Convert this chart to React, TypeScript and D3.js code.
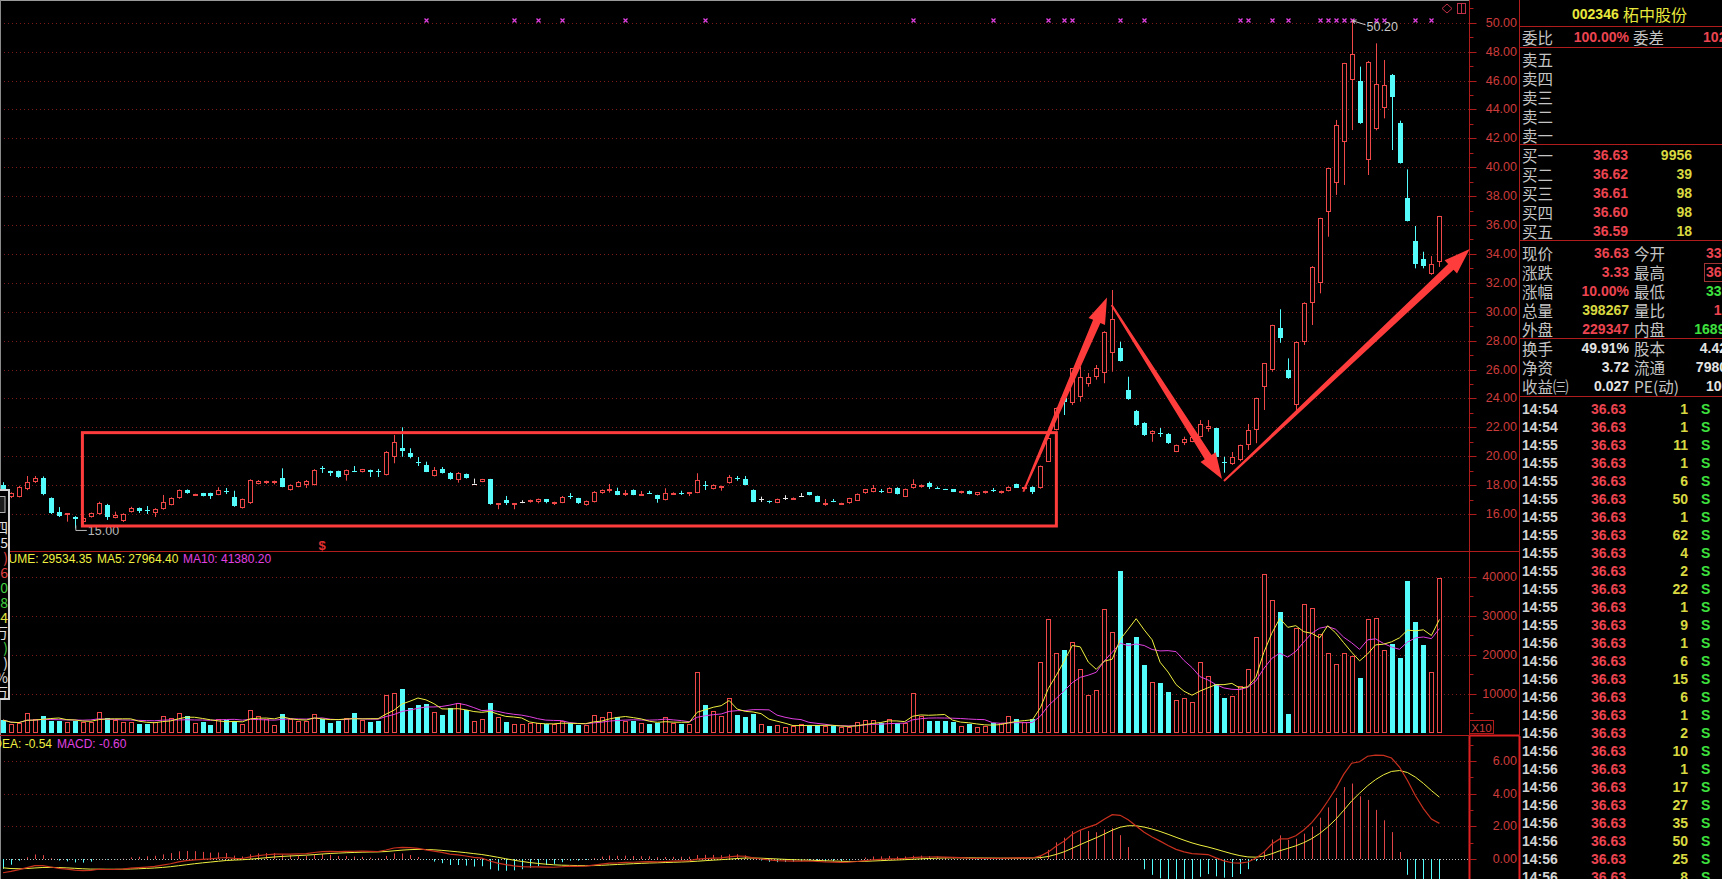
import React, { useEffect } from 'react';
import * as d3 from 'd3';

// ---------- Daily OHLC (price, yuan) ----------
const opens = [18.0,17.18,17.2,17.71,18.21,18.49,17.11,16.16,15.99,15.79,
15.47,15.79,16.0,16.62,15.72,15.54,16.14,16.42,16.28,16.07,
16.33,16.62,17.11,17.66,17.36,17.43,17.45,17.32,17.56,17.18,
16.41,16.74,18.08,18.28,18.28,18.49,17.66,17.89,18.01,18.01,
19.19,18.98,18.98,18.7,18.98,18.91,19.05,18.98,18.7,19.92,
20.55,20.22,19.62,19.39,18.63,19.09,18.86,18.35,18.77,18.1,
18.24,18.4,16.72,16.97,16.72,16.85,16.81,16.85,17.02,16.83,
16.78,17.27,17.09,16.62,16.85,17.43,17.70,17.61,17.47,17.66,
17.35,17.44,17.3,16.97,17.36,17.48,17.38,17.47,18.02,17.73,
17.95,18.12,18.48,18.4,17.66,17.02,16.91,16.78,17.13,17.04,
17.25,17.5,17.24,16.78,16.9,16.75,16.74,16.92,17.43,17.54,
17.6,17.47,17.82,17.2,17.78,17.85,18.12,17.82,17.73,17.71,
17.43,17.61,17.29,17.43,17.66,17.43,17.59,18.05,17.88,17.89,
17.78,19.62,21.81,24.0,23.66,24.12,24.99,25.46,25.78,27.12,
27.47,24.58,23.13,22.32,21.54,21.63,21.54,20.31,20.89,21.0,
21.35,21.86,21.93,19.62,19.44,19.74,20.78,21.81,24.81,25.96,
28.85,25.96,23.54,27.92,30.58,31.97,36.92,38.93,41.76,46.04,
45.96,40.5,42.62,44.08,46.38,43.04,37.85,34.91,33.63,32.61,
33.46];
const highs = [18.2,17.5,17.95,18.63,18.63,18.6,17.15,16.48,16.07,15.85,
15.8,16.1,16.85,16.7,16.16,16.05,16.5,16.45,16.55,16.4,
17.32,17.15,17.7,17.7,17.4,17.46,17.47,17.85,17.8,17.61,
17.07,18.4,18.35,18.31,18.31,19.16,18.05,18.28,18.35,19.1,
19.32,19.0,19.0,19.08,19.32,19.12,19.07,19.12,20.35,21.47,
22.0,20.55,19.94,19.62,19.25,19.25,18.9,18.9,18.8,18.45,
18.43,18.43,16.74,17.25,16.74,16.95,17.0,17.07,17.04,16.85,
17.25,17.45,17.12,16.93,17.58,17.7,18.08,17.82,17.66,17.7,
17.59,17.6,17.33,17.78,17.5,17.61,17.5,18.82,18.28,18.05,
17.96,18.7,18.63,18.63,17.7,17.2,16.93,17.07,17.3,17.15,
17.45,17.52,17.27,17.04,17.04,16.78,17.12,17.42,17.74,18.01,
17.73,17.85,17.85,17.76,18.4,18.05,18.24,17.9,17.74,17.73,
17.61,17.63,17.52,17.61,17.8,17.62,17.92,18.1,17.89,17.92,
19.35,21.3,23.36,24.05,26.1,26.2,25.76,26.31,28.65,31.5,
27.92,25.5,23.2,22.35,21.8,21.95,21.6,20.8,21.35,21.4,
22.5,22.5,21.97,19.96,20.29,20.8,22.23,24.05,26.45,29.1,
30.17,26.77,27.95,30.65,33.15,36.5,39.95,43.27,47.22,50.2,
46.96,47.35,48.57,47.42,46.45,43.22,39.85,35.93,34.15,33.85,
36.63];
const lows = [17.1,17.1,17.15,17.65,18.15,17.3,16.0,15.79,15.47,15.0,
15.4,15.75,15.95,15.59,15.7,15.45,16.1,16.07,16.0,15.79,
16.3,16.6,17.05,17.4,17.34,17.22,17.04,17.3,17.38,16.5,
16.38,16.7,18.05,18.08,18.05,17.85,17.62,17.85,17.8,17.98,
18.84,18.63,18.5,18.31,18.9,18.88,18.56,18.56,18.67,19.51,
19.96,19.85,19.32,18.9,18.6,18.8,18.37,18.17,18.45,18.1,
18.2,16.64,16.33,16.62,16.33,16.75,16.78,16.74,16.74,16.62,
16.75,17.04,16.7,16.58,16.8,17.4,17.48,17.3,17.25,17.3,
17.35,17.4,16.78,16.94,17.33,17.32,17.24,17.44,17.66,17.7,
17.61,18.1,18.3,17.98,16.82,16.83,16.74,16.75,16.97,17.02,
17.25,17.29,16.82,16.57,16.82,16.74,16.71,16.9,17.4,17.5,
17.45,17.45,17.35,17.17,17.75,17.82,17.73,17.75,17.71,17.52,
17.41,17.36,17.27,17.41,17.52,17.41,17.56,17.8,17.66,17.38,
17.75,19.6,21.78,22.85,23.54,23.77,24.81,25.3,25.05,25.85,
26.55,23.9,22.1,21.4,21.0,21.33,20.85,20.28,20.77,20.97,
21.3,21.7,19.9,18.86,19.4,19.65,20.43,20.9,23.2,25.85,
27.85,25.35,23.2,27.7,29.08,31.27,35.19,38.08,38.77,42.57,
43.0,39.46,42.55,43.38,41.19,40.25,36.25,33.0,33.0,32.55,
33.1];
const closes = [17.2,17.45,17.89,18.24,18.49,17.36,16.09,15.86,16.07,15.65,
15.72,16.07,16.76,15.79,15.93,16.0,16.42,16.23,16.27,16.35,
16.85,17.11,17.66,17.43,17.38,17.25,17.25,17.66,17.54,16.55,
17.04,18.35,18.31,18.31,18.31,17.89,18.01,18.24,18.31,19.05,
19.17,18.84,18.54,19.05,18.96,19.09,18.93,18.96,20.31,21.0,
20.38,19.92,19.6,18.93,19.05,18.82,18.4,18.86,18.47,18.1,
18.4,16.67,16.74,16.78,16.74,16.85,16.97,17.04,16.85,16.85,
17.2,17.25,16.74,16.9,17.54,17.66,17.71,17.32,17.48,17.32,
17.37,17.43,17.04,17.43,17.47,17.47,17.5,18.35,18.0,18.01,
17.96,18.54,18.47,18.01,16.85,17.02,16.9,17.04,17.13,17.13,
17.25,17.31,16.85,16.79,16.89,16.77,17.09,17.39,17.71,17.78,
17.59,17.78,17.38,17.73,18.08,18.01,17.85,17.81,17.72,17.54,
17.59,17.38,17.5,17.59,17.65,17.59,17.89,17.82,17.89,17.54,
19.32,21.24,23.32,23.75,26.08,25.5,25.5,26.08,28.62,29.47,
26.61,23.94,22.16,21.47,21.76,21.62,20.89,20.78,21.19,21.35,
22.23,22.11,19.92,19.6,19.92,20.78,21.81,24.0,26.43,29.08,
28.16,25.39,27.92,30.62,33.11,36.46,39.92,42.92,47.19,47.83,
43.08,47.3,45.74,45.69,44.84,40.31,36.3,33.3,33.16,33.3,
36.63];
// ---------- Daily volume (x10) ----------
const volumes = [3200,2100,2350,4940,3400,4240,3040,3040,2780,3040,
2780,2780,5190,3650,3200,2780,2780,2190,2190,2620,
4240,3650,4940,4240,2530,2700,1930,3470,3200,2950,
2190,5790,4240,3400,1930,4760,3400,2950,2950,4760,
3400,2530,2950,3730,5100,3200,2780,2950,9650,10080,
11190,6380,7070,7250,5190,4500,6220,7500,5790,2950,
3470,7500,4000,2780,2190,2190,2350,2350,2100,2100,
3040,2350,1930,1930,4420,4000,5190,3900,3040,2950,
2350,2190,2530,3900,2350,2190,2190,15480,7000,5610,
4240,8800,4500,4070,4760,2100,1670,1930,1500,1670,
2190,1850,1850,1670,1670,1330,1330,2620,3200,3200,
2530,3400,2530,2350,10080,4240,2950,2950,2950,2780,
1750,2100,1500,1750,2350,2530,4240,3400,2780,3400,
18050,29100,20360,21220,23190,16250,9650,10930,31690,25770,
41540,22940,24480,17360,12910,12650,10340,8360,8800,7770,
18050,14530,12400,8800,9390,11960,16250,24640,40690,34080,
31080,4760,26800,32970,31950,25260,20370,17620,20370,19680,
14100,29190,29370,21220,22770,19240,39050,28500,22510,15480,
39827];

// candles flagged with a pink "x" marker on the top line
const markerIdx = [53,64,67,70,78,88,114,124,131,133,134,140,143,155,156,159,161,165,166,167,168,169,172,173,177,179];

const priceTicks = [16,18,20,22,24,26,28,30,32,34,36,38,40,42,44,46,48,50];
const volTicks = [10000,20000,30000,40000];
const macdTicks = [0,2,4,6];

// MACD legend values at cursor
const difStart = -0.84;
const deaStart = -0.54;

// right quote panel
const sellLabels = ['卖五','卖四','卖三','卖二','卖一'];
const buyLabels = ['买一','买二','买三','买四','买五'];
const buyPrices = ['36.63','36.62','36.61','36.60','36.59'];
const buyVols = ['9956','39','98','98','18'];
const quoteLabels1 = ['现价','涨跌','涨幅','总量','外盘'];
const quoteVals1 = ['36.63','3.33','10.00%','398267','229347'];
const quoteCols1 = ['red','red','red','yellow','red'];
const quoteLabels2 = ['今开','最高','最低','量比','内盘'];
const quoteVals2 = ['33.30','36.63','33.10','1.27','168920'];
const quoteCols2 = ['red','red','green','red','green'];
const infoLabels1 = ['换手','净资','收益㈢'];
const infoVals1 = ['49.91%','3.72','0.027'];
const infoLabels2 = ['股本','流通','PE(动)'];
const infoVals2 = ['4.42亿','7980万','100.3'];
const tickTimes = ['14:54','14:54','14:55','14:55','14:55','14:55','14:55','14:55','14:55','14:55','14:55','14:55','14:55',
  '14:56','14:56','14:56','14:56','14:56','14:56','14:56','14:56','14:56','14:56','14:56','14:56','14:56','14:56'];
const tickPrices = Array(27).fill('36.63');
const tickVols = [1,1,11,1,6,50,1,62,4,2,22,1,9,1,6,15,6,1,2,10,1,17,27,35,50,25,8];

// left data-window glimpse
const popupChars = ['四','5',')','6','0','8','4','万',')',')','%','万'];
const popupCols = ['#e0e0e0','#e0e0e0','#e04040','#e04040','#40d040','#40d040','#e0e040','#e0e0e0','#40d040','#e0e0e0','#e0e0e0','#e0e0e0'];

const RED = '#f04848';
const CYAN = '#54fcfc';
const WHITE = '#e8e8e8';
const GRID = '#7a1a1a';
const AXIS = '#b01c1c';
const LABEL = '#cc3c3c';
const ANNO = '#ff3c3c';
const NUMF = "'Liberation Sans', Arial, Helvetica, sans-serif";
const CJKF = "'Noto Sans CJK SC', 'Noto Sans', sans-serif";
const COL: Record<string, string> = { red: '#ec4450', yellow: '#d8d840', green: '#3ee03e', white: '#e4e4e4' };

function arrowPoly(x1: number, y1: number, x2: number, y2: number, w0 = 2, w1 = 8, headLen = 26, headW = 9) {
  const dx = x2 - x1, dy = y2 - y1, L = Math.hypot(dx, dy);
  const ux = dx / L, uy = dy / L, px = -uy, py = ux;
  const bx = x2 - ux * headLen, by = y2 - uy * headLen;
  const pts = [
    [x1 + px * w0 / 2, y1 + py * w0 / 2],
    [bx + px * w1 / 2, by + py * w1 / 2],
    [bx + px * headW, by + py * headW],
    [x2, y2],
    [bx - px * headW, by - py * headW],
    [bx - px * w1 / 2, by - py * w1 / 2],
    [x1 - px * w0 / 2, y1 - py * w0 / 2],
  ];
  return pts.map(p => p[0].toFixed(1) + ',' + p[1].toFixed(1)).join(' ');
}

export default function App() {
  useEffect(() => {
    document.body.style.margin = '0';
    document.body.style.background = '#000';
  }, []);

  const n = closes.length;
  const x = d3.scaleLinear().domain([0, n - 1]).range([3, 3 + 7.98 * (n - 1)]);
  const yP = d3.scaleLinear().domain([16, 50]).range([514, 22.7]);
  const yV = d3.scaleLinear().domain([0, 40000]).range([732.5, 577]);
  const yM = d3.scaleLinear().domain([0, 6]).range([859, 761]);

  const AX = 1469.5;
  const PX = 1519.5;

  // volume moving averages
  const ma = (arr: number[], k: number) => arr.map((_, i) => d3.mean(arr.slice(Math.max(0, i - k + 1), i + 1)) as number);
  const ma5 = ma(volumes, 5);
  const ma10 = ma(volumes, 10);

  // MACD from closes
  const dif: number[] = [], dea: number[] = [], hist: number[] = [];
  let e12 = closes[0], e26 = closes[0] - difStart, d = deaStart;
  closes.forEach((c, i) => {
    if (i > 0) {
      e12 = e12 * 11 / 13 + c * 2 / 13;
      e26 = e26 * 25 / 27 + c * 2 / 27;
      const df0 = e12 - e26;
      d = d * 8 / 10 + df0 * 2 / 10;
    }
    const df = e12 - e26;
    dif.push(df); dea.push(d); hist.push(2 * (df - d));
  });

  const lineV = d3.line<number>().x((_, i) => x(i)).y(v => yV(v));
  const lineM = d3.line<number>().x((_, i) => x(i)).y(v => yM(v));

  const candles = closes.map((c, i) => {
    const o = opens[i], h = highs[i], l = lows[i];
    const cx = Math.round(x(i));
    const yt = Math.round(yP(Math.max(o, c))), yb = Math.round(yP(Math.min(o, c)));
    const yh = yP(h), yl = yP(l);
    if (c > o) {
      const bot = Math.max(yt + 2, yb);
      return (
        <g key={i}>
          <line x1={cx + 0.5} x2={cx + 0.5} y1={yh} y2={yt} stroke={RED} />
          <line x1={cx + 0.5} x2={cx + 0.5} y1={bot} y2={yl} stroke={RED} />
          <rect x={cx - 1.5} y={yt + 0.5} width={4} height={Math.max(1, bot - yt - 1)} fill="#000" stroke={RED} />
        </g>
      );
    }
    if (c < o) {
      return (
        <g key={i}>
          <line x1={cx + 0.5} x2={cx + 0.5} y1={yh} y2={yl} stroke={CYAN} />
          <rect x={cx - 2} y={yt} width={5} height={Math.max(1, yb - yt)} fill={CYAN} />
        </g>
      );
    }
    return (
      <g key={i}>
        <line x1={cx + 0.5} x2={cx + 0.5} y1={yh} y2={yl} stroke={WHITE} />
        <line x1={cx - 2} x2={cx + 3} y1={yt + 0.5} y2={yt + 0.5} stroke={WHITE} />
      </g>
    );
  });

  const volBars = volumes.map((v, i) => {
    const cx = Math.round(x(i));
    const top = Math.round(yV(v));
    const base = Math.round(yV(0));
    if (closes[i] < opens[i]) {
      return <rect key={i} x={cx - 2} y={top} width={5} height={base - top} fill={CYAN} />;
    }
    return <rect key={i} x={cx - 1.5} y={top + 0.5} width={4} height={Math.max(1, base - top - 1)} fill="#000" stroke={RED} />;
  });

  const macdBars = hist.map((v, i) => {
    const cx = Math.round(x(i)) + 0.5;
    return <line key={i} x1={cx} x2={cx} y1={yM(0)} y2={yM(v)} stroke={v >= 0 ? '#e04444' : CYAN} />;
  });

  // annotations (data coordinates)
  const boxX0 = x(9.95), boxX1 = x(132.0), boxY0 = yP(21.63), boxY1 = yP(15.17);
  const arrows = [
    [127.86, 17.54, 138.35, 30.98],
    [138.93, 30.46, 152.76, 18.42],
    [153.0, 18.28, 183.8, 34.34],
  ];

  const hiIdx = d3.maxIndex(highs);
  const loIdx = d3.minIndex(lows);
  const hx = x(hiIdx), hy = yP(highs[hiIdx]);
  const lx = x(loIdx), ly = yP(lows[loIdx]);

  const txtNum = (props: any, s: string) => <text fontFamily={NUMF} fontWeight="bold" fontSize={14} dominantBaseline="central" {...props}>{s}</text>;
  const txtCjk = (props: any, s: string) => <text fontFamily={CJKF} fontSize={15.5} fill="#c4c4c4" dominantBaseline="central" {...props}>{s}</text>;

  return (
    <svg width={1722} height={879} style={{ position: 'absolute', left: 0, top: 0, background: '#000', display: 'block' }}>
      <rect x={0} y={0} width={1722} height={879} fill="#000" />
      <defs>
        <clipPath id="popclip"><rect x={0} y={488} width={9} height={212} /></clipPath>
      </defs>

      {/* grid lines */}
      {priceTicks.map(t => <line key={'g' + t} x1={0} x2={AX} y1={Math.round(yP(t)) + 0.5} y2={Math.round(yP(t)) + 0.5} stroke={GRID} strokeDasharray="1 3" />)}
      {volTicks.map(t => <line key={'gv' + t} x1={0} x2={AX} y1={Math.round(yV(t)) + 0.5} y2={Math.round(yV(t)) + 0.5} stroke={GRID} strokeDasharray="1 3" />)}
      {macdTicks.filter(t => t > 0).map(t => <line key={'gm' + t} x1={0} x2={AX} y1={Math.round(yM(t)) + 0.5} y2={Math.round(yM(t)) + 0.5} stroke={GRID} strokeDasharray="1 3" />)}
      <line x1={0} x2={AX} y1={yM(0) + 0.5} y2={yM(0) + 0.5} stroke="#bdbdbd" strokeDasharray="1 2" />

      {/* frame */}
      <line x1={0} x2={AX} y1={0.5} y2={0.5} stroke="#9a9a9a" />
      <line x1={0.5} x2={0.5} y1={0} y2={879} stroke="#8a8a8a" />
      <line x1={0} x2={PX} y1={551.5} y2={551.5} stroke={AXIS} />
      <line x1={0} x2={PX} y1={735.5} y2={735.5} stroke={AXIS} />
      <line x1={AX} x2={PX} y1={735.5} y2={735.5} stroke="#e02020" strokeWidth={2} />
      <line x1={AX} x2={AX} y1={0} y2={879} stroke={AXIS} />
      <line x1={AX} x2={AX} y1={736} y2={879} stroke="#e02020" strokeWidth={2} />
      <line x1={PX} x2={PX} y1={0} y2={879} stroke={AXIS} />
      <line x1={PX} x2={PX} y1={736} y2={879} stroke="#e02020" strokeWidth={2} />

      {/* price axis */}
      {priceTicks.map(t => (
        <g key={'pt' + t}>
          <line x1={AX} x2={AX + 7} y1={Math.round(yP(t)) + 0.5} y2={Math.round(yP(t)) + 0.5} stroke={AXIS} />
          <line x1={AX} x2={AX + 4} y1={Math.round(yP(t + 1)) + 0.5} y2={Math.round(yP(t + 1)) + 0.5} stroke={AXIS} />
          <text x={1517} y={yP(t)} textAnchor="end" dominantBaseline="central" fontFamily={NUMF} fontSize={12.5} fill={LABEL}>{t.toFixed(2)}</text>
        </g>
      ))}
      {volTicks.map(t => (
        <g key={'vt' + t}>
          <line x1={AX} x2={AX + 7} y1={Math.round(yV(t)) + 0.5} y2={Math.round(yV(t)) + 0.5} stroke={AXIS} />
          <line x1={AX} x2={AX + 4} y1={Math.round(yV(t - 5000)) + 0.5} y2={Math.round(yV(t - 5000)) + 0.5} stroke={AXIS} />
          <text x={1517} y={yV(t)} textAnchor="end" dominantBaseline="central" fontFamily={NUMF} fontSize={12.5} fill={LABEL}>{t}</text>
        </g>
      ))}
      <rect x={AX} y={720.5} width={24} height={13} fill="none" stroke={AXIS} />
      <text x={AX + 12} y={727.5} textAnchor="middle" dominantBaseline="central" fontFamily={NUMF} fontSize={11.5} fill={LABEL}>X10</text>
      {macdTicks.map(t => (
        <g key={'mt' + t}>
          <line x1={AX} x2={AX + 7} y1={Math.round(yM(t)) + 0.5} y2={Math.round(yM(t)) + 0.5} stroke={AXIS} />
          <line x1={AX} x2={AX + 4} y1={Math.round(yM(t + 1)) + 0.5} y2={Math.round(yM(t + 1)) + 0.5} stroke={AXIS} />
          <text x={1517} y={yM(t)} textAnchor="end" dominantBaseline="central" fontFamily={NUMF} fontSize={12.5} fill={LABEL}>{t.toFixed(2)}</text>
        </g>
      ))}

      {/* top-right icons */}
      <path d="M1447,4 L1452,8.5 L1447,13 L1442,8.5 Z" fill="none" stroke="#c03048" />
      <rect x={1457.5} y={3.5} width={8} height={10} fill="none" stroke="#c03048" />
      <rect x={1457.5} y={3.5} width={4} height={10} fill="none" stroke="#c03048" />

      {/* markers */}
      {markerIdx.map(i => {
        const mx = Math.round(x(i)) + 0.5, my = 20.5;
        return <path key={'mk' + i} d={`M${mx - 2},${my - 2}L${mx + 2},${my + 2}M${mx - 2},${my + 2}L${mx + 2},${my - 2}`} stroke="#e040e0" strokeWidth={1.3} />;
      })}

      {/* candles */}
      {candles}

      {/* high / low labels */}
      <path d={`M${hx + 1},${hy + 1} L${hx + 14},${hy + 5}`} stroke="#c8c8c8" fill="none" />
      <path d={`M${hx + 1},${hy + 1} l4,-1 M${hx + 1},${hy + 1} l2,3`} stroke="#c8c8c8" fill="none" />
      <text x={hx + 15} y={hy + 7} dominantBaseline="central" fontFamily={NUMF} fontSize={12.5} fill="#c8c8c8">{highs[hiIdx].toFixed(2)}</text>
      <path d={`M${lx + 1},${ly - 3} L${lx + 1},${ly + 2} L${lx + 12},${ly + 2}`} stroke="#b8b8b8" fill="none" />
      <text x={lx + 13} y={ly + 2.5} dominantBaseline="central" fontFamily={NUMF} fontSize={12.5} fill="#b8b8b8">{lows[loIdx].toFixed(2)}</text>
      <text x={x(40)} y={545} textAnchor="middle" dominantBaseline="central" fontFamily={NUMF} fontWeight="bold" fontSize={13} fill="#e03030">$</text>

      {/* box & arrows */}
      <rect x={boxX0} y={boxY0} width={boxX1 - boxX0} height={boxY1 - boxY0} fill="none" stroke={ANNO} strokeWidth={3} />
      {arrows.map((a, k) => (
        <polygon key={'ar' + k} points={arrowPoly(x(a[0]), yP(a[1]), x(a[2]), yP(a[3]))} fill={ANNO} />
      ))}

      {/* volume */}
      {volBars}
      <path d={lineV(ma10) || ''} fill="none" stroke="#e040e0" strokeWidth={1} />
      <path d={lineV(ma5) || ''} fill="none" stroke="#f0f040" strokeWidth={1} />
      <text x={92} y={559} textAnchor="end" dominantBaseline="central" fontFamily={NUMF} fontSize={12} fill="#f0f040">VOLUME: 29534.35</text>
      <text x={97} y={559} dominantBaseline="central" fontFamily={NUMF} fontSize={12} fill="#f0f040">MA5: 27964.40</text>
      <text x={183} y={559} dominantBaseline="central" fontFamily={NUMF} fontSize={12} fill="#e040e0">MA10: 41380.20</text>

      {/* MACD */}
      {macdBars}
      <path d={lineM(dea) || ''} fill="none" stroke="#f0f040" strokeWidth={1} />
      <path d={lineM(dif) || ''} fill="none" stroke="#c8301e" strokeWidth={1.2} />
      <text x={52} y={744} textAnchor="end" dominantBaseline="central" fontFamily={NUMF} fontSize={12} fill="#f0f040">DEA: -0.54</text>
      <text x={57} y={744} dominantBaseline="central" fontFamily={NUMF} fontSize={12} fill="#e040e0">MACD: -0.60</text>

      {/* left data window glimpse */}
      <g>
        <rect x={-20} y={490} width={29} height={209} fill="#000" stroke="#d4d4d4" strokeWidth={2} />
        <rect x={-6} y={496.5} width={11} height={16} fill="#1c1c1c" stroke="#b0b0b0" />
        <g clipPath="url(#popclip)">
          {popupChars.map((c, k) => (
            <text key={'pc' + k} x={8} y={527 + k * 15} textAnchor="end" dominantBaseline="central" fontFamily={CJKF} fontSize={14} fill={popupCols[k]}>{c}</text>
          ))}
        </g>
      </g>

      {/* right quote panel */}
      {[26.5, 47.5, 144.5, 240.5, 338.5, 396.5].map(yy => <line key={'rl' + yy} x1={PX} x2={1722} y1={yy} y2={yy} stroke={AXIS} />)}
      {txtNum({ x: 1572, y: 14, fill: '#e8e83c' }, '002346')}
      <text x={1623} y={14} dominantBaseline="central" fontFamily={CJKF} fontSize={16} fill="#e8e83c">柘中股份</text>
      {txtCjk({ x: 1522, y: 37 }, '委比')}
      {txtNum({ x: 1629, y: 37, fill: COL.red, textAnchor: 'end' }, '100.00%')}
      {txtCjk({ x: 1633, y: 37 }, '委差')}
      {txtNum({ x: 1742, y: 37, fill: COL.red, textAnchor: 'end' }, '10283')}
      {sellLabels.map((s, k) => <g key={'s' + k}>{txtCjk({ x: 1522, y: 59 + k * 19 }, s)}</g>)}
      {buyLabels.map((s, k) => (
        <g key={'b' + k}>
          {txtCjk({ x: 1522, y: 155 + k * 19 }, s)}
          {txtNum({ x: 1628, y: 155 + k * 19, fill: COL.red, textAnchor: 'end' }, buyPrices[k])}
          {txtNum({ x: 1692, y: 155 + k * 19, fill: COL.yellow, textAnchor: 'end' }, buyVols[k])}
        </g>
      ))}
      {quoteLabels1.map((s, k) => (
        <g key={'q' + k}>
          {txtCjk({ x: 1522, y: 253 + k * 19 }, s)}
          {txtNum({ x: 1629, y: 253 + k * 19, fill: COL[quoteCols1[k]], textAnchor: 'end' }, quoteVals1[k])}
          {txtCjk({ x: 1634, y: 253 + k * 19 }, quoteLabels2[k])}
          {txtNum({ x: 1741, y: 253 + k * 19, fill: COL[quoteCols2[k]], textAnchor: 'end' }, quoteVals2[k])}
        </g>
      ))}
      <rect x={1704.5} y={263.5} width={40} height={18} fill="none" stroke="#a03434" />
      {infoLabels1.map((s, k) => (
        <g key={'inf' + k}>
          {txtCjk({ x: 1522, y: 348 + k * 19 }, s)}
          {txtNum({ x: 1629, y: 348 + k * 19, fill: COL.white, textAnchor: 'end' }, infoVals1[k])}
          {txtCjk({ x: 1634, y: 348 + k * 19 }, infoLabels2[k])}
          {txtNum({ x: 1741, y: 348 + k * 19, fill: COL.white, textAnchor: 'end' }, infoVals2[k])}
        </g>
      ))}
      {tickTimes.map((t, k) => (
        <g key={'tk' + k}>
          {txtNum({ x: 1522, y: 408.5 + k * 18, fill: '#d4d4d4' }, t)}
          {txtNum({ x: 1626, y: 408.5 + k * 18, fill: COL.red, textAnchor: 'end' }, tickPrices[k])}
          {txtNum({ x: 1688, y: 408.5 + k * 18, fill: COL.yellow, textAnchor: 'end' }, String(tickVols[k]))}
          {txtNum({ x: 1701, y: 408.5 + k * 18, fill: COL.green }, 'S')}
        </g>
      ))}
    </svg>
  );
}
